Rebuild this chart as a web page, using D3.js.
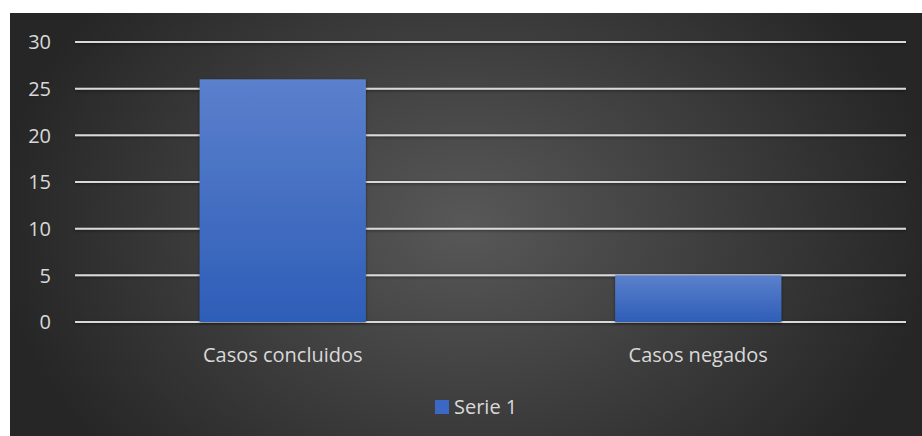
<!DOCTYPE html>
<html><head><meta charset="utf-8">
<script src="https://cdn.jsdelivr.net/npm/d3@7"></script>
<style>html,body{margin:0;padding:0;background:#fff;}svg{display:block;}</style>
</head><body>
<script>
const categories = ["Casos concluidos", "Casos negados"];
const values = [26, 5];
const yTicks = [0, 5, 10, 15, 20, 25, 30];
const seriesName = "Serie 1";

const W = 922, H = 436;
const svg = d3.select("body").append("svg").attr("width", W).attr("height", H);
const defs = svg.append("defs");
const rg = defs.append("radialGradient").attr("id","bg").attr("gradientUnits","userSpaceOnUse")
  .attr("cx", 466).attr("cy", 224).attr("r", 470)
  .attr("gradientTransform","translate(466,224) scale(1,0.75) translate(-466,-224)");
rg.append("stop").attr("offset","0%").attr("stop-color","#585858");
rg.append("stop").attr("offset","100%").attr("stop-color","#262626");
const bg = defs.append("linearGradient").attr("id","bar").attr("x1",0).attr("y1",0).attr("x2",0).attr("y2",1);
bg.append("stop").attr("offset","0%").attr("stop-color","#5b80cc");
bg.append("stop").attr("offset","100%").attr("stop-color","#2e5eb8");
const sh = defs.append("filter").attr("id","sh").attr("filterUnits","userSpaceOnUse")
  .attr("x",0).attr("y",0).attr("width",W).attr("height",H);
sh.append("feDropShadow").attr("dx",0).attr("dy",1).attr("stdDeviation",1.5).attr("flood-color","#000").attr("flood-opacity",0.5);

svg.append("rect").attr("x",10).attr("y",13).attr("width",W-10).attr("height",H-13).attr("fill","url(#bg)");

const x0 = 75, x1 = 906, yTop = 42, yBot = 322;
const x = d3.scaleBand().domain(categories).range([x0, x1]).padding(0);
const y = d3.scaleLinear().domain([0, 30]).range([yBot, yTop]);

const font = "'Open Sans', sans-serif";
const fs = 20;
// grid
svg.append("g").selectAll("line").data(yTicks).join("line")
  .attr("x1", x0).attr("x2", x1).attr("y1", d => y(d)).attr("y2", d => y(d))
  .attr("stroke", "#d9d9d9").attr("stroke-width", 2).attr("filter","url(#sh)");
// y labels
svg.append("g").selectAll("text").data(yTicks).join("text")
  .attr("x", 51).attr("y", d => y(d)).attr("dy","0.36em").attr("text-anchor","end")
  .attr("fill","#d9d9d9").attr("font-family",font).attr("font-size",fs).text(d => d);
// bars
const bw = x.bandwidth() / 2.5;
svg.append("g").selectAll("rect").data(values).join("rect")
  .attr("x", (d,i) => x(categories[i]) + x.bandwidth()/2 - bw/2)
  .attr("width", bw)
  .attr("y", d => y(d)).attr("height", d => y(0) - y(d))
  .attr("fill","url(#bar)").attr("filter","url(#sh)");
// x labels
svg.append("g").selectAll("text").data(categories).join("text")
  .attr("x", d => x(d) + x.bandwidth()/2).attr("y", 362).attr("text-anchor","middle")
  .attr("fill","#d9d9d9").attr("font-family",font).attr("font-size",fs).text(d => d);
// legend
svg.append("rect").attr("x",435).attr("y",400).attr("width",14).attr("height",14).attr("fill","#3a68c4");
svg.append("text").attr("x",454).attr("y",414).attr("fill","#d9d9d9").attr("font-family",font).attr("font-size",fs).text(seriesName);
</script>
</body></html>
